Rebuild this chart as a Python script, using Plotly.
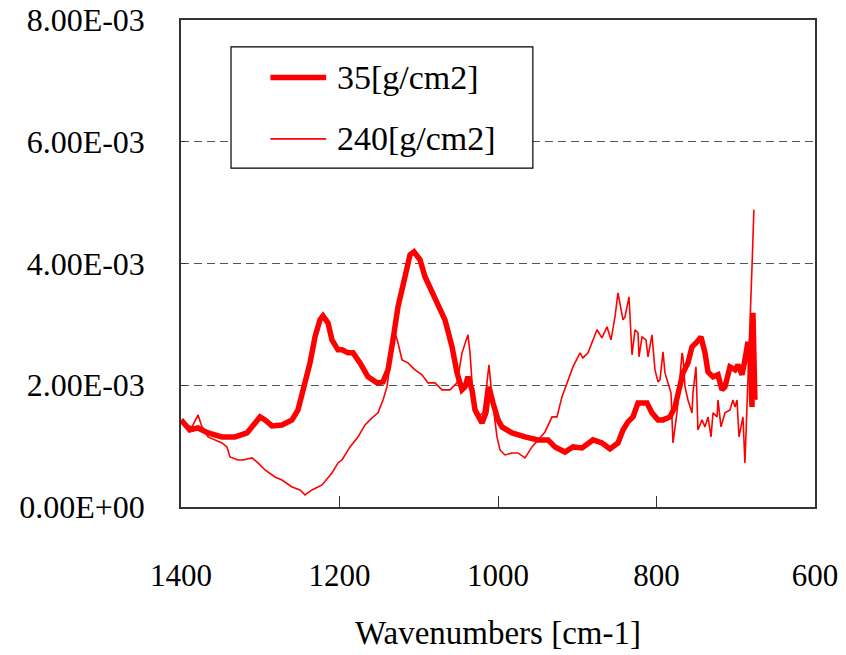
import numpy as np
import plotly.graph_objects as go

# Wavenumber [cm-1] and absorbance (in units of 1e-3) for the 35 g/cm2 sample
wn_35 = [1400, 1389, 1378.5, 1365.9, 1348.3, 1331.9, 1316.7, 1306.6, 1300.3, 1294.0,
         1285.2, 1272.6, 1259.9, 1252.4, 1246.1, 1237.2, 1230.9, 1224.6, 1220.8, 1214.5,
         1209.5, 1201.9, 1196.8, 1189.3, 1182.9, 1174.1, 1164.0, 1152.7, 1145.1, 1138.8,
         1132.5, 1126.2, 1117.4, 1111.0, 1106.0, 1098.4, 1092.1, 1079.5, 1066.9, 1058.0,
         1051.7, 1045.4, 1041.6, 1037.9, 1032.8, 1029.0, 1020.2, 1015.2, 1011.4, 1006.3,
         1000.0, 995.0, 982.3, 965.9, 949.5, 936.9, 928.1, 915.5, 905.4, 894.0,
         880.1, 868.8, 858.7, 848.6, 842.3, 836.0, 829.7, 823.3, 812.0, 805.7,
         798.1, 791.8, 783.0, 776.7, 770.3, 766.6, 760.3, 755.2, 748.9, 743.9,
         738.8, 735.0, 728.7, 722.4, 717.4, 713.6, 707.3, 700.9, 697.2, 692.1,
         688.4, 684.6, 682.1, 679.5, 678.3, 675.8]
abs_35 = [1.431, 1.266, 1.299, 1.217, 1.151, 1.151, 1.217, 1.381, 1.480, 1.431,
          1.332, 1.348, 1.431, 1.595, 1.924, 2.368, 2.795, 3.075, 3.141, 3.026,
          2.746, 2.582, 2.582, 2.532, 2.532, 2.368, 2.138, 2.039, 2.056, 2.253,
          2.746, 3.289, 3.782, 4.144, 4.193, 4.062, 3.782, 3.437, 3.075, 2.631,
          2.203, 1.924, 1.973, 2.138, 1.924, 1.595, 1.381, 1.546, 1.973, 1.710,
          1.431, 1.316, 1.217, 1.151, 1.102, 1.102, 0.987, 0.904, 0.987, 0.970,
          1.102, 1.052, 0.954, 1.052, 1.266, 1.398, 1.480, 1.710, 1.710, 1.546,
          1.431, 1.431, 1.480, 1.644, 1.973, 2.203, 2.368, 2.631, 2.713, 2.795,
          2.532, 2.220, 2.138, 2.171, 1.924, 1.973, 2.302, 2.253, 2.335, 2.171,
          2.417, 2.713, 2.532, 1.644, 3.190, 1.759]

# Wavenumber [cm-1] and absorbance (in units of 1e-3) for the 240 g/cm2 sample
wn_240 = [1400, 1386.1, 1378.5, 1373.5, 1365.9, 1348.3, 1342.0, 1338.2, 1328.1, 1321.8,
          1310.4, 1302.8, 1294.0, 1281.4, 1272.6, 1259.9, 1249.8, 1243.5, 1234.7, 1222.1,
          1209.5, 1201.9, 1196.8, 1186.8, 1176.7, 1167.8, 1159.0, 1151.4, 1145.1, 1140.1,
          1133.8, 1130.0, 1126.2, 1121.1, 1113.6, 1104.7, 1095.9, 1088.3, 1079.5, 1070.7,
          1060.6, 1051.7, 1045.4, 1037.9, 1035.3, 1031.5, 1025.3, 1018.9, 1013.9, 1011.4,
          1007.6, 1001.3, 997.5, 995.0, 991.2, 982.3, 974.8, 965.9, 957.1, 949.5,
          940.7, 931.9, 925.6, 919.3, 912.9, 905.4, 896.5, 892.8, 886.4, 880.1,
          875.1, 868.8, 862.5, 857.4, 852.4, 848.6, 842.3, 839.8, 834.7, 830.9,
          827.1, 823.3, 822.1, 818.3, 813.3, 810.7, 805.7, 801.9, 798.1, 795.6,
          791.8, 789.3, 785.5, 781.7, 779.2, 774.2, 770.3, 767.8, 766.6, 764.0,
          760.3, 755.2, 754.0, 750.2, 747.7, 742.6, 738.8, 735.0, 731.2, 728.7,
          723.6, 722.4, 718.6, 713.6, 707.3, 703.5, 700.9, 698.4, 695.9, 690.9,
          688.4, 685.9, 682.1, 679.5, 677.1]
abs_240 = [1.381, 1.316, 1.513, 1.316, 1.151, 1.052, 0.987, 0.822, 0.773, 0.773,
           0.806, 0.724, 0.608, 0.493, 0.444, 0.329, 0.280, 0.197, 0.280, 0.362,
           0.559, 0.724, 0.773, 0.987, 1.151, 1.348, 1.464, 1.546, 1.759, 1.973,
           2.582, 2.861, 2.697, 2.417, 2.368, 2.253, 2.171, 2.039, 2.039, 1.924,
           1.924, 2.039, 2.532, 2.828, 2.532, 1.809, 1.480, 1.546, 2.039, 2.335,
           1.809, 1.151, 0.937, 0.904, 0.855, 0.888, 0.888, 0.806, 0.987, 1.102,
           1.233, 1.480, 1.480, 1.809, 2.039, 2.302, 2.532, 2.450, 2.532, 2.746,
           2.911, 2.779, 2.960, 2.746, 3.124, 3.519, 3.075, 3.124, 3.453, 2.500,
           2.911, 2.861, 2.467, 2.795, 2.746, 2.467, 2.828, 2.253, 2.056, 2.088,
           2.549, 2.203, 2.056, 1.875, 1.052, 1.546, 2.138, 2.532, 2.467, 1.973,
           1.759, 1.546, 1.875, 2.302, 1.266, 1.431, 1.316, 1.480, 1.151, 1.546,
           1.480, 1.759, 1.316, 1.546, 1.595, 1.759, 1.644, 1.759, 1.151, 1.480,
           0.724, 1.546, 2.861, 3.947, 4.884]

series_names = ["35[g/cm2]", "240[g/cm2]"]
y_tick_vals = [0, 2e-3, 4e-3, 6e-3, 8e-3]
y_tick_text = ["0.00E+00", "2.00E-03", "4.00E-03", "6.00E-03", "8.00E-03"]
x_tick_vals = [1400, 1200, 1000, 800, 600]

FONT = "'Liberation Serif', 'Times New Roman', serif"
RED = "#FF0000"

fig = go.Figure()
fig.add_trace(go.Scatter(x=wn_35, y=np.array(abs_35) * 1e-3, mode="lines",
                         line=dict(color=RED, width=5.5), name=series_names[0],
                         showlegend=False))
fig.add_trace(go.Scatter(x=wn_240, y=np.array(abs_240) * 1e-3, mode="lines",
                         line=dict(color=RED, width=1.6), name=series_names[1],
                         showlegend=False))

# Boxed legend drawn in paper coordinates
leg_x0, leg_x1, leg_y0, leg_y1 = 0.0789, 0.555, 0.696, 0.945
shapes = [
    dict(type="rect", xref="paper", yref="paper", x0=leg_x0, x1=leg_x1, y0=leg_y0, y1=leg_y1,
         line=dict(color="black", width=1.2), fillcolor="white", layer="above"),
    dict(type="line", xref="paper", yref="paper", x0=0.141, x1=0.229, y0=0.882, y1=0.882,
         line=dict(color=RED, width=5.5), layer="above"),
    dict(type="line", xref="paper", yref="paper", x0=0.141, x1=0.229, y0=0.756, y1=0.756,
         line=dict(color=RED, width=1.6), layer="above"),
]
annotations = [
    dict(text=series_names[0], xref="paper", yref="paper", x=0.243, y=0.882,
         xanchor="left", yanchor="middle", showarrow=False,
         font=dict(family=FONT, size=34, color="black")),
    dict(text=series_names[1], xref="paper", yref="paper", x=0.243, y=0.756,
         xanchor="left", yanchor="middle", showarrow=False,
         font=dict(family=FONT, size=34, color="black")),
    dict(text="Wavenumbers [cm-1]", xref="paper", yref="paper", x=0.5, y=-0.259,
         xanchor="center", yanchor="middle", showarrow=False,
         font=dict(family=FONT, size=33, color="black")),
]

fig.update_layout(
    width=846, height=655,
    margin=dict(l=181, r=31, t=20, b=148),
    paper_bgcolor="white", plot_bgcolor="white",
    font=dict(family=FONT, color="black"),
    shapes=shapes, annotations=annotations,
)
fig.update_xaxes(
    range=[1400, 600], tickvals=x_tick_vals, ticks="inside", ticklen=11,
    tickcolor="#333333", tickwidth=1.2, showgrid=False, zeroline=False,
    showline=True, linecolor="#333333", linewidth=1.5, mirror=True,
    tickfont=dict(family=FONT, size=31, color="black"), ticklabelstandoff=40,
    automargin=False,
)
fig.update_yaxes(
    range=[0, 8e-3], tickvals=y_tick_vals, ticktext=y_tick_text, ticks="inside",
    ticklen=5, tickcolor="#333333", showgrid=True, gridcolor="#555555",
    griddash="8px,5px", gridwidth=1, zeroline=False,
    showline=True, linecolor="#333333", linewidth=1.5, mirror=True,
    tickfont=dict(family=FONT, size=32, color="black"), ticklabelstandoff=28,
    automargin=False,
)

fig.write_html("out.html")
